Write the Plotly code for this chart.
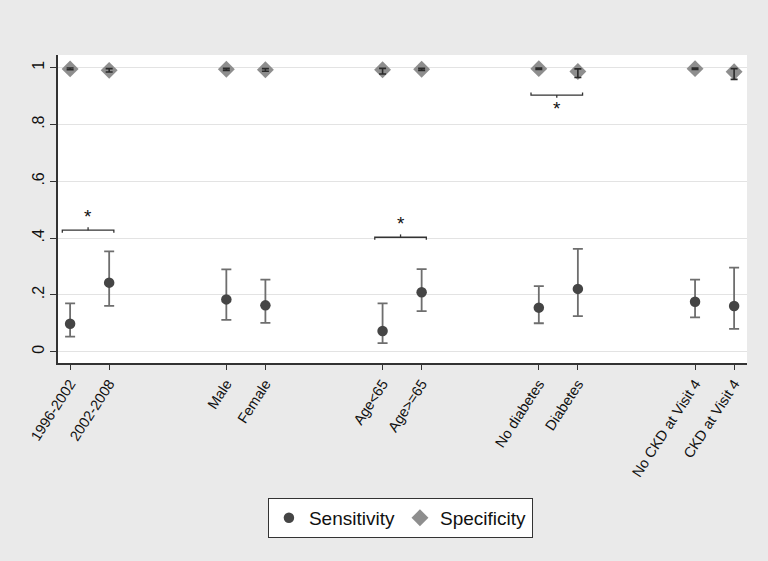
import plotly.graph_objects as go

# ---- data ----
groups = [
    ["1996-2002", "2002-2008"],
    ["Male", "Female"],
    ["Age<65", "Age>=65"],
    ["No diabetes", "Diabetes"],
    ["No CKD at Visit 4", "CKD at Visit 4"],
]
categories = [c for g in groups for c in g]

sens = [0.098, 0.243, 0.184, 0.163, 0.073, 0.209, 0.155, 0.221, 0.176, 0.161]
sens_lo = [0.053, 0.161, 0.112, 0.101, 0.030, 0.143, 0.100, 0.125, 0.121, 0.080]
sens_hi = [0.170, 0.353, 0.290, 0.254, 0.170, 0.291, 0.231, 0.362, 0.254, 0.296]

spec = [0.996, 0.991, 0.995, 0.993, 0.993, 0.995, 0.997, 0.987, 0.997, 0.986]
spec_lo = [0.993, 0.985, 0.991, 0.988, 0.978, 0.991, 0.994, 0.966, 0.994, 0.959]
spec_hi = [0.999, 0.997, 0.998, 0.997, 0.998, 0.998, 0.999, 0.996, 0.999, 0.997]

y_ticks = [0, 0.2, 0.4, 0.6, 0.8, 1.0]
y_ticktext = ["0", ".2", ".4", ".6", ".8", "1"]

# significance brackets: (first category, second category, level, direction)
brackets = [
    ("1996-2002", "2002-2008", 0.428, "up"),
    ("Age<65", "Age>=65", 0.403, "up"),
    ("No diabetes", "Diabetes", 0.904, "down"),
]

# ---- positions from group structure ----
GROUP_STEP = 4
xpos = []
for gi, g in enumerate(groups):
    for wi, _ in enumerate(g):
        xpos.append(gi * GROUP_STEP + wi)
pos = dict(zip(categories, xpos))

FONT = "Liberation Sans, Arial, sans-serif"
SENS_COL = "#454545"
SENS_ERR = "#6e6e6e"
SPEC_COL = "#8e8e8e"
SPEC_ERR = "#2a2a2a"

fig = go.Figure()

fig.add_trace(go.Scatter(
    x=xpos, y=sens, mode="markers", name="Sensitivity",
    marker=dict(symbol="circle", size=10.5, color=SENS_COL),
    error_y=dict(type="data", symmetric=False,
                 array=[h - v for h, v in zip(sens_hi, sens)],
                 arrayminus=[v - l for v, l in zip(sens, sens_lo)],
                 color=SENS_ERR, thickness=1.8, width=5),
))
fig.add_trace(go.Scatter(
    x=xpos, y=spec, mode="markers", name="Specificity",
    marker=dict(symbol="diamond", size=13, color=SPEC_COL),
))
# specificity CI drawn on top of the diamonds
fig.add_trace(go.Scatter(
    x=xpos, y=spec, mode="markers", showlegend=False, hoverinfo="skip",
    marker=dict(size=1, color="rgba(0,0,0,0)"),
    error_y=dict(type="data", symmetric=False,
                 array=[h - v for h, v in zip(spec_hi, spec)],
                 arrayminus=[v - l for v, l in zip(spec, spec_lo)],
                 color=SPEC_ERR, thickness=1.6, width=3.5),
))

# brackets with asterisks
for a, b, lvl, d in brackets:
    x0 = pos[a] - 0.2
    x1 = pos[b] + 0.12
    xm = (x0 + x1) / 2
    s = 1 if d == "up" else -1
    end = lvl - s * 0.009
    mid = lvl + s * 0.01
    fig.add_trace(go.Scatter(
        x=[x0, x0, x1, x1, None, xm, xm],
        y=[end, lvl, lvl, end, None, lvl, mid],
        mode="lines", line=dict(color="#333333", width=1.3),
        showlegend=False, hoverinfo="skip"))
    fig.add_annotation(x=xm, y=lvl + s * 0.048, text="*", showarrow=False,
                       font=dict(size=19, color="#111111", family=FONT),
                       xanchor="center", yanchor="middle")

fig.update_layout(
    width=768, height=561,
    margin=dict(l=58, r=21, t=55, b=198),
    paper_bgcolor="#eaeaea", plot_bgcolor="white",
    font=dict(family=FONT, color="#111111"),
    showlegend=True,
    legend=dict(orientation="h", x=0.497, xanchor="center", y=-0.438, yanchor="top",
                bgcolor="white", bordercolor="#333333", borderwidth=1,
                font=dict(size=19, family=FONT), itemwidth=30,
                traceorder="normal"),
    xaxis=dict(range=[-0.31, 17.33], tickvals=xpos, ticktext=categories,
               tickangle=-57, tickfont=dict(size=14.5),
               showgrid=False, zeroline=False, showline=True,
               linecolor="#333333", linewidth=1.5,
               ticks="outside", ticklen=5, tickcolor="#333333", tickwidth=1.2),
    yaxis=dict(range=[-0.04, 1.045], tickvals=y_ticks, ticktext=y_ticktext,
               tickangle=-90, tickfont=dict(size=16),
               showgrid=True, gridcolor="#e3e3e3", gridwidth=1,
               zeroline=False, showline=True,
               linecolor="#333333", linewidth=1.5,
               ticks="outside", ticklen=6, tickcolor="#333333", tickwidth=1.2),
)

fig.write_html("out.html", config={"displayModeBar": False},
               post_script="document.body.style.margin='0';document.body.style.overflow='hidden';")
